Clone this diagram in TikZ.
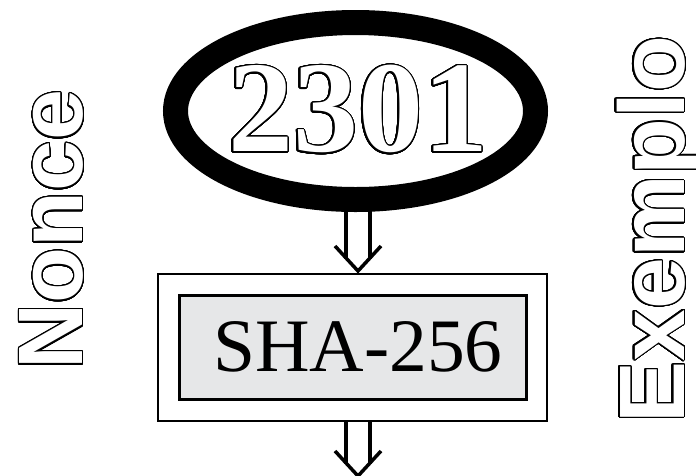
\documentclass[tikz,border=0pt]{standalone}
\usepackage{fontspec}
\setmainfont{Liberation Serif}
\newfontfamily\labelfont{Liberation Sans}
\usepackage{contour}
\usetikzlibrary{shapes.geometric,calc}
\contourlength{1.2pt}
\contournumber{48}
\definecolor{boxgray}{HTML}{E6E7E8}
\newcommand{\outlinetext}[1]{{\color{white}\contour{black}{#1}}}
\newcommand{\hollowarrow}[2]{%
  \draw[arrowline] ($(#1)+(-12,0)$) -- ($(#2)+(-12,-12.5)$);
  \draw[arrowline] ($(#1)+(12,0)$) -- ($(#2)+(12,-12.5)$);
  \draw[arrowline] ($(#2)+(-23,-25)$) -- (#2) -- ($(#2)+(23,-25)$);}
\begin{document}
\begin{tikzpicture}[x=1pt,y=-1pt,
  ring/.style={ellipse, draw=black, line width=25pt, minimum width=360pt, minimum height=177pt, inner sep=0pt},
  bigdigits/.style={font=\bfseries\fontsize{130}{130}\selectfont, inner sep=0pt},
  outerbox/.style={draw=black, line width=2pt, fill=white, minimum width=389pt, minimum height=147pt, inner sep=0pt},
  innerbox/.style={draw=black, line width=3pt, fill=boxgray, minimum width=347pt, minimum height=104pt, inner sep=0pt},
  hashtext/.style={font=\fontsize{75.5}{75.5}\selectfont, inner sep=0pt},
  sidelabel/.style={rotate=90, anchor=base, inner sep=0pt},
  arrowline/.style={draw=black, line width=3.5pt, line cap=butt, line join=miter}]
\useasboundingbox (0,0) rectangle (696,475);
\coordinate (ax) at (358,0);
% sideways labels
\node[sidelabel, font=\labelfont\bfseries\fontsize{91.6}{92}\selectfont] (nonce) at (82.5,230) {\outlinetext{Nonce}};
\node[sidelabel, font=\labelfont\bfseries\fontsize{93}{93}\selectfont] (exemplo) at (684,229.5) {\outlinetext{Exemplo}};
% hash box
\node[outerbox] (box) at (352.5,347.5) {};
\node[innerbox] (hash) at (353,347.5) {};
\node[hashtext] (sha) at (358,347) {SHA-256};
% arrows (drawn before the ring so the ring covers the shaft tops)
\coordinate (a1s) at ($(355.5,212)+(2.5,-4)$);
\coordinate (a1e) at ($(box.north -| ax)+(0,-2)$);
\hollowarrow{a1s}{a1e}
\coordinate (a2s) at (box.south -| ax);
\coordinate (out) at (358,476);
\hollowarrow{a2s}{out}
% nonce ellipse
\node[ring] (ell) at (355.5,111) {};
\node[bigdigits] (num) at (358,110) {\outlinetext{2301}};
\end{tikzpicture}
\end{document}
